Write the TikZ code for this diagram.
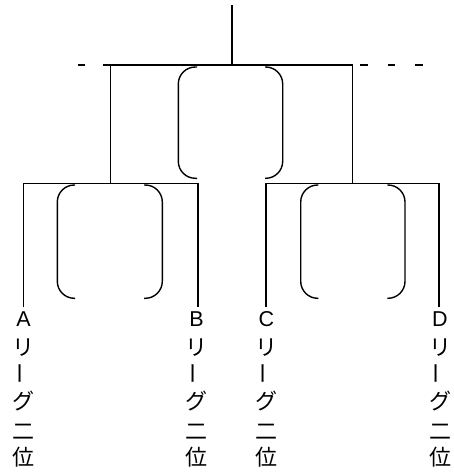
\documentclass[tikz,border=0pt]{standalone}
\usepackage{fontspec}
\newfontfamily\jp{Noto Sans CJK JP}
\newfontfamily\lat{Liberation Sans}
\begin{document}
\begin{tikzpicture}[x=1pt,y=-1pt,
  line/.style={line width=1.4pt},
  brk/.style={line width=1.4pt, rounded corners=17pt},
  lettr/.style={inner sep=0pt, font=\lat\fontsize{21.5}{22}\selectfont},
  kana/.style={inner sep=0pt, font=\jp\fontsize{22}{22}\selectfont}]
\useasboundingbox (0,0) rectangle (453,474);
% tree coordinates
\coordinate (top) at (232,5);
\coordinate (topj) at (232,65);
\coordinate (L1) at (110.5,65);
\coordinate (R1) at (352.5,65);
\coordinate (L1b) at (110.5,183.3);
\coordinate (R1b) at (352.5,183.3);
\coordinate (Aj) at (23.5,183.3);
\coordinate (Bj) at (198,183.3);
\coordinate (Cj) at (266,183.3);
\coordinate (Dj) at (439,183.3);
\coordinate (Ae) at (23.5,307);
\coordinate (Be) at (198,307);
\coordinate (Ce) at (266,307);
\coordinate (De) at (439,307);
% lines
\draw[line] (top) -- (topj);
\draw[line] (L1b) -- (L1) -- (R1) -- (R1b);
\draw[line] (Ae) -- (Aj) -- (Bj) -- (Be);
\draw[line] (Ce) -- (Cj) -- (Dj) -- (De);
% dashed extensions
\draw[line, dash pattern=on 7pt off 18pt] (78,65) -- (L1);
\draw[line, dash pattern=on 7.5pt off 20pt] (360,65) -- (423,65);
% brackets centre
\draw[brk] (197,67) -- (178.3,67) -- (178.3,178.3) -- (197,178.3);
\draw[brk] (265,67) -- (282.7,67) -- (282.7,178.3) -- (265,178.3);
% brackets left
\draw[brk] (75,185) -- (57.3,185) -- (57.3,298.3) -- (75,298.3);
\draw[brk] (144,185) -- (162.3,185) -- (162.3,298.3) -- (144,298.3);
% brackets right
\draw[brk] (318.3,185) -- (300.7,185) -- (300.7,298.3) -- (318.3,298.3);
\draw[brk] (387.3,185) -- (405,185) -- (405,298.3) -- (387.3,298.3);
% labels
\foreach \n/\x/\l in {A/23.5/A, B/196.5/B, C/266.5/C, D/440/D}{
  \node[lettr] (\n1) at (\x,319) {\l};
  \node[kana] (\n2) at (\x,348) {リ};
  \node[kana, rotate=90] (\n3) at (\x,373.5) {ー};
  \node[kana] (\n4) at (\x,401) {グ};
  \node[kana] (\n5) at (\x,431.5) {二};
  \node[kana] (\n6) at (\x,457.5) {位};
}
\end{tikzpicture}
\end{document}
